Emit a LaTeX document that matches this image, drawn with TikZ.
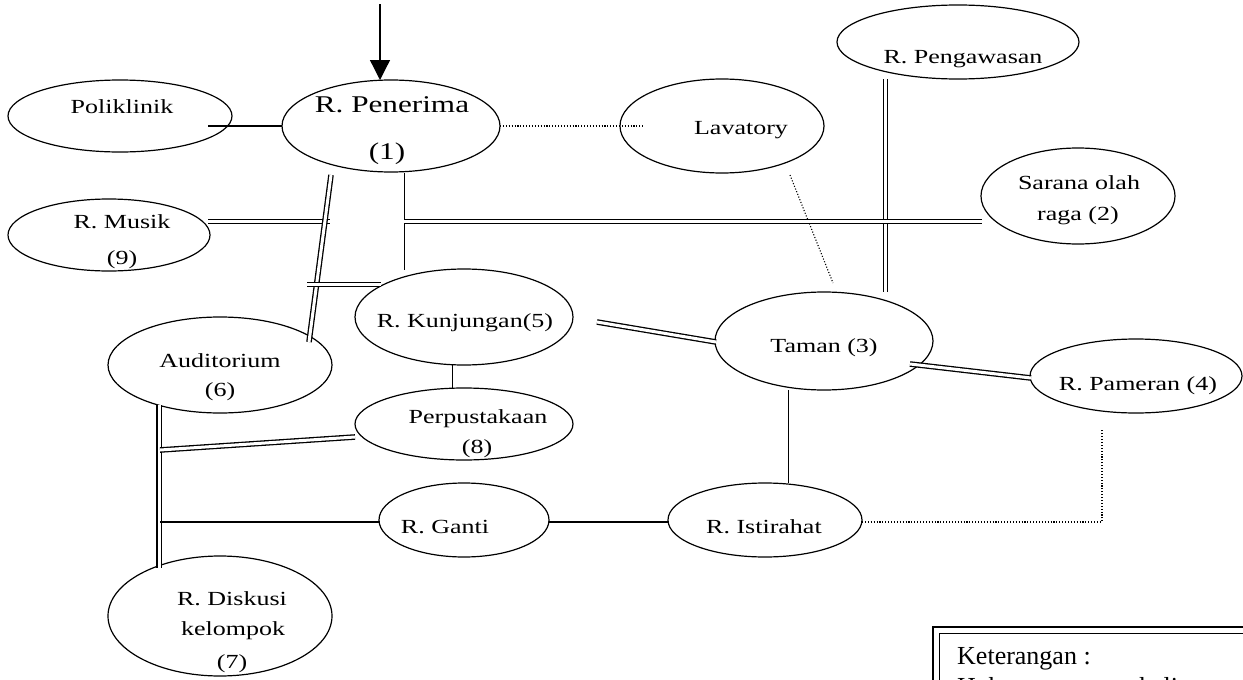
\documentclass[tikz,border=0pt]{standalone}
\usepackage{fontspec}
\setmainfont{Liberation Serif}
\newfontfamily\wide[FakeStretch=1.3]{Liberation Serif}
\usetikzlibrary{shapes.geometric,arrows.meta}
\begin{document}
\begin{tikzpicture}[x=1pt,y=-1pt,
  room/.style={draw, ellipse, line width=1.2pt, inner sep=0pt, outer sep=0pt},
  lbl/.style={font=\wide\fontsize{20}{20}\selectfont, anchor=base, inner sep=0pt},
  single/.style={line width=1.1pt},
  thin single/.style={line width=0.8pt},
  dots/.style={line width=1.1pt, dash pattern=on 1.1pt off 1.8pt},
  dbl/.style={double, double distance=3pt, line width=1.3pt}]
\useasboundingbox (0,0) rectangle (1243,680);
\clip (0,0) rectangle (1243,680);

% rooms
\node[room, minimum width=224pt, minimum height=72pt] (pol) at (120,116) {};
\node[room, minimum width=218pt, minimum height=92pt] (pen) at (391,126) {};
\node[room, minimum width=204pt, minimum height=94pt] (lav) at (722,126) {};
\node[room, minimum width=242pt, minimum height=74pt] (peng) at (958,42) {};
\node[room, minimum width=194pt, minimum height=96pt] (sar) at (1078,196) {};
\node[room, minimum width=202pt, minimum height=72pt] (mus) at (109,235) {};
\node[room, minimum width=218pt, minimum height=96pt] (kun) at (464,317) {};
\node[room, minimum width=224pt, minimum height=96pt] (aud) at (220,365) {};
\node[room, minimum width=218pt, minimum height=72pt] (pus) at (464,424) {};
\node[room, minimum width=218pt, minimum height=98pt] (tam) at (824,341) {};
\node[room, minimum width=212pt, minimum height=74pt] (pam) at (1136,376) {};
\node[room, minimum width=170pt, minimum height=74pt] (gan) at (464,520) {};
\node[room, minimum width=194pt, minimum height=74pt] (ist) at (765,520) {};
\node[room, minimum width=224pt, minimum height=120pt] (dis) at (220,616) {};

% labels
\node[lbl] (polT) at (122,113) {Poliklinik};
\node[lbl, font=\wide\fontsize{24}{24}\selectfont] (penT) at (392,112) {R. Penerima};
\node[lbl, font=\wide\fontsize{24}{24}\selectfont] (penN) at (387,159) {(1)};
\node[lbl] (lavT) at (741,134) {Lavatory};
\node[lbl] (pengT) at (963,63) {R. Pengawasan};
\node[lbl] (sarT) at (1079,189) {Sarana olah};
\node[lbl] (sarN) at (1078,220) {raga (2)};
\node[lbl] (musT) at (122,228) {R. Musik};
\node[lbl] (musN) at (122,264) {(9)};
\node[lbl] (kunT) at (465,327) {R. Kunjungan(5)};
\node[lbl] (audT) at (220,367) {Auditorium};
\node[lbl] (audN) at (220,396) {(6)};
\node[lbl] (pusT) at (478,423) {Perpustakaan};
\node[lbl] (pusN) at (477,453) {(8)};
\node[lbl] (tamT) at (824,352) {Taman (3)};
\node[lbl] (pamT) at (1138,390) {R. Pameran (4)};
\node[lbl] (ganT) at (445,533) {R. Ganti};
\node[lbl] (istT) at (764,533) {R. Istirahat};
\node[lbl] (disT) at (232,605) {R. Diskusi};
\node[lbl] (disK) at (233,635) {kelompok};
\node[lbl] (disN) at (232,668) {(7)};

% entrance arrow
\coordinate (entry) at (380,4);
\coordinate (penTop) at (380,80);
\draw[line width=1.3pt, -{Triangle[width=20pt,length=20pt]}] (entry) -- (penTop);

% junction coordinates
\coordinate (polIn) at (208,126);
\coordinate (lavIn) at (643,126);
\coordinate (lavA) at (790,175);
\coordinate (tamA) at (833,283);
\coordinate (pengA) at (885.5,79);
\coordinate (tamB) at (885.5,292);
\coordinate (penA) at (404,173);
\coordinate (penB) at (404,270);
\coordinate (hA) at (404,221.5);
\coordinate (sarA) at (982,221.5);
\coordinate (musA) at (208,221.5);
\coordinate (musB) at (330,221.5);
\coordinate (penC) at (331,175);
\coordinate (audA) at (309,342);
\coordinate (dgA) at (307,284.5);
\coordinate (kunA) at (381,284.5);
\coordinate (kunB) at (597,322);
\coordinate (tamC) at (716,342);
\coordinate (tamD) at (910,364);
\coordinate (pamA) at (1031,378);
\coordinate (kunC) at (452,365);
\coordinate (pusA) at (452,388);
\coordinate (tamE) at (788,390);
\coordinate (istA) at (788,483);
\coordinate (istB) at (862,522);
\coordinate (crn) at (1102,522);
\coordinate (pamB) at (1102,429);
\coordinate (audB) at (159,405);
\coordinate (disA) at (159,568);
\coordinate (vA) at (160,450);
\coordinate (pusB) at (355,437);
\coordinate (vB) at (160,522);
\coordinate (ganA) at (379,522);
\coordinate (ganB) at (549,522);
\coordinate (istC) at (668,522);

% connectors
\draw[single] (polIn) -- (pen.west);
\draw[dots] (pen.east) -- (lavIn);
\draw[dots] (lavA) -- (tamA);
\draw[dbl] (pengA) -- (tamB);
\draw[thin single] (penA) -- (penB);
\draw[dbl] (hA) -- (sarA);
\draw[dbl] (musA) -- (musB);
\draw[dbl] (penC) -- (audA);
\draw[dbl] (dgA) -- (kunA);
\draw[dbl] (kunB) -- (tamC);
\draw[dbl] (tamD) -- (pamA);
\draw[thin single] (kunC) -- (pusA);
\draw[thin single] (tamE) -- (istA);
\draw[dots] (istB) -- (crn) -- (pamB);
\draw[dbl] (audB) -- (disA);
\draw[dbl] (vA) -- (pusB);
\draw[single] (vB) -- (ganA);
\draw[single] (ganB) -- (istC);

% legend
\draw[line width=2.4pt] (933,627) rectangle (1270,720);
\draw[line width=0.9pt] (939,633) rectangle (1270,720);
\node[anchor=base west, inner sep=0pt, font=\fontsize{26}{26}\selectfont] (legT) at (957,664) {Keterangan :};
\node[anchor=base west, inner sep=0pt, font=\fontsize{26}{26}\selectfont] (legL) at (957,695) {Hubungan erat sekali};
\end{tikzpicture}
\end{document}
